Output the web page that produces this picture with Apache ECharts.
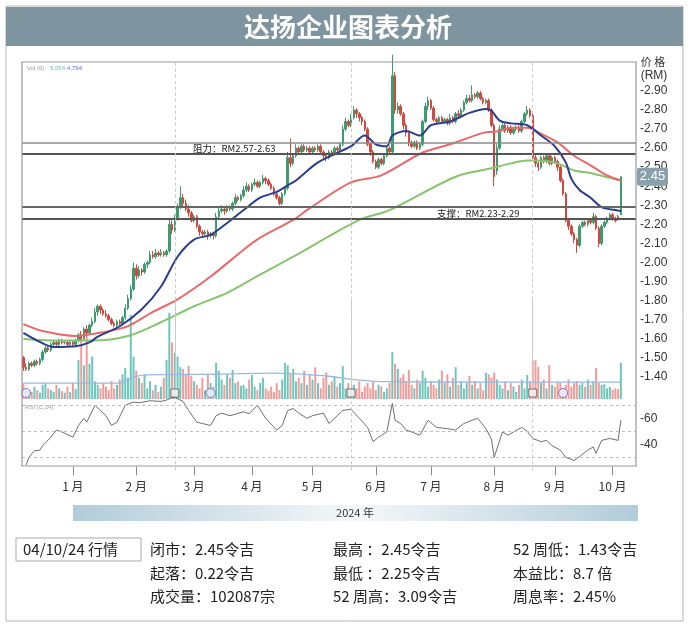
<!DOCTYPE html>
<html><head><meta charset="utf-8">
<script src="https://cdn.jsdelivr.net/npm/echarts/dist/echarts.min.js"></script>
<style>html,body{margin:0;padding:0;background:#fff}#c{width:690px;height:628px}</style>
</head><body><div id="c"></div>
<script>
// ---------- categories: trading days (weekdays) from 2023-12-06 ----------
const firstDay = [2023, 11, 6];
const categoryCount = 223; // 218 trading days + empty slots up to the frame
const dates = [];
(function(){
  const d = new Date(Date.UTC(firstDay[0], firstDay[1], firstDay[2]));
  while (dates.length < categoryCount) {
    const w = d.getUTCDay();
    if (w !== 0 && w !== 6) dates.push(d.toISOString().slice(0, 10));
    d.setUTCDate(d.getUTCDate() + 1);
  }
})();

// ---------- daily candles [open, close, low, high] (RM) ----------
const candles = [
[1.50,1.45,1.43,1.51],[1.45,1.44,1.43,1.47],[1.44,1.47,1.43,1.48],[1.47,1.46,1.45,1.48],[1.46,1.48,1.45,1.49],
[1.48,1.47,1.46,1.49],[1.47,1.49,1.46,1.50],[1.49,1.53,1.48,1.54],[1.53,1.55,1.52,1.56],[1.55,1.54,1.53,1.56],
[1.54,1.57,1.53,1.58],[1.57,1.58,1.56,1.59],[1.58,1.57,1.56,1.59],[1.57,1.59,1.56,1.60],[1.59,1.58,1.57,1.60],
[1.58,1.58,1.57,1.59],[1.58,1.57,1.56,1.59],[1.57,1.58,1.56,1.59],[1.58,1.57,1.56,1.59],[1.57,1.59,1.56,1.60],
[1.59,1.62,1.58,1.63],[1.62,1.60,1.59,1.64],[1.60,1.65,1.59,1.66],[1.65,1.63,1.61,1.67],[1.63,1.67,1.62,1.68],
[1.67,1.69,1.66,1.71],[1.69,1.74,1.68,1.76],[1.74,1.77,1.72,1.78],[1.77,1.75,1.73,1.78],[1.75,1.73,1.72,1.76],
[1.73,1.72,1.71,1.75],[1.72,1.70,1.69,1.73],[1.70,1.68,1.67,1.71],[1.68,1.67,1.66,1.69],[1.67,1.69,1.66,1.70],
[1.69,1.68,1.67,1.70],[1.68,1.71,1.67,1.72],[1.71,1.76,1.70,1.78],[1.76,1.81,1.75,1.83],[1.81,1.86,1.80,1.88],
[1.86,1.97,1.85,2.00],[1.97,1.93,1.91,1.99],[1.93,1.96,1.92,1.98],[1.96,1.95,1.93,1.97],[1.95,1.99,1.94,2.00],
[1.99,2.00,1.97,2.01],[2.00,2.04,1.99,2.06],[2.04,2.03,2.02,2.06],[2.03,2.05,2.02,2.07],[2.05,2.04,2.03,2.06],
[2.04,2.05,2.03,2.07],[2.05,2.04,2.03,2.06],[2.04,2.06,2.03,2.07],[2.06,2.20,2.05,2.23],[2.20,2.17,2.15,2.22],
[2.17,2.23,2.16,2.25],[2.23,2.29,2.22,2.31],[2.29,2.34,2.28,2.40],[2.34,2.31,2.29,2.36],[2.31,2.28,2.27,2.33],
[2.28,2.26,2.24,2.30],[2.26,2.22,2.21,2.27],[2.22,2.24,2.21,2.25],[2.24,2.19,2.18,2.25],[2.19,2.16,2.14,2.20],
[2.16,2.15,2.13,2.17],[2.15,2.16,2.14,2.17],[2.16,2.14,2.12,2.17],[2.14,2.15,2.13,2.16],[2.15,2.14,2.12,2.16],
[2.14,2.24,2.13,2.26],[2.24,2.27,2.23,2.29],[2.27,2.28,2.26,2.30],[2.28,2.27,2.25,2.29],[2.27,2.29,2.26,2.30],
[2.29,2.28,2.27,2.30],[2.28,2.31,2.27,2.32],[2.31,2.34,2.30,2.36],[2.34,2.33,2.32,2.35],[2.33,2.35,2.32,2.36],
[2.35,2.38,2.34,2.40],[2.38,2.40,2.37,2.42],[2.40,2.38,2.37,2.41],[2.38,2.41,2.37,2.42],[2.41,2.42,2.40,2.44],
[2.42,2.40,2.39,2.43],[2.40,2.42,2.39,2.43],[2.42,2.44,2.41,2.46],[2.44,2.43,2.41,2.45],[2.43,2.41,2.40,2.44],
[2.41,2.39,2.38,2.42],[2.39,2.36,2.35,2.40],[2.36,2.34,2.33,2.37],[2.34,2.31,2.30,2.35],[2.31,2.36,2.30,2.37],
[2.36,2.39,2.35,2.40],[2.39,2.55,2.38,2.58],[2.55,2.52,2.50,2.65],[2.52,2.56,2.51,2.57],[2.56,2.60,2.55,2.62],
[2.60,2.58,2.57,2.61],[2.58,2.61,2.57,2.62],[2.61,2.59,2.58,2.62],[2.59,2.60,2.58,2.61],[2.60,2.58,2.57,2.61],
[2.58,2.60,2.57,2.61],[2.60,2.59,2.58,2.61],[2.59,2.61,2.58,2.62],[2.61,2.58,2.57,2.62],[2.58,2.56,2.54,2.59],
[2.56,2.55,2.53,2.57],[2.55,2.58,2.54,2.59],[2.58,2.57,2.56,2.59],[2.57,2.60,2.56,2.61],[2.60,2.59,2.58,2.61],
[2.59,2.62,2.58,2.63],[2.62,2.70,2.61,2.72],[2.70,2.74,2.69,2.76],[2.74,2.72,2.71,2.75],[2.72,2.76,2.71,2.78],
[2.76,2.80,2.75,2.82],[2.80,2.78,2.76,2.81],[2.78,2.76,2.74,2.79],[2.76,2.74,2.72,2.77],[2.74,2.70,2.69,2.75],
[2.70,2.62,2.61,2.71],[2.62,2.58,2.56,2.63],[2.58,2.53,2.52,2.59],[2.53,2.50,2.49,2.54],[2.50,2.54,2.49,2.55],
[2.54,2.52,2.51,2.55],[2.52,2.56,2.51,2.57],[2.56,2.60,2.55,2.61],[2.60,2.58,2.57,2.61],[2.58,2.98,2.57,3.09],
[2.98,2.80,2.78,3.00],[2.80,2.82,2.78,2.84],[2.82,2.78,2.77,2.83],[2.78,2.72,2.70,2.79],[2.72,2.68,2.66,2.73],
[2.68,2.63,2.61,2.69],[2.63,2.61,2.60,2.64],[2.61,2.63,2.60,2.64],[2.63,2.60,2.59,2.64],[2.60,2.62,2.59,2.63],
[2.62,2.74,2.61,2.75],[2.74,2.82,2.73,2.84],[2.82,2.85,2.80,2.87],[2.85,2.81,2.80,2.86],[2.81,2.75,2.74,2.82],
[2.75,2.74,2.73,2.76],[2.74,2.76,2.73,2.77],[2.76,2.74,2.73,2.77],[2.74,2.75,2.73,2.76],[2.75,2.73,2.72,2.76],
[2.73,2.76,2.72,2.78],[2.76,2.74,2.73,2.77],[2.74,2.78,2.73,2.79],[2.78,2.77,2.76,2.80],[2.77,2.80,2.76,2.81],
[2.80,2.84,2.79,2.85],[2.84,2.86,2.83,2.88],[2.86,2.85,2.84,2.88],[2.85,2.88,2.84,2.93],[2.88,2.87,2.86,2.89],
[2.87,2.89,2.86,2.90],[2.89,2.86,2.85,2.90],[2.86,2.84,2.83,2.87],[2.84,2.85,2.83,2.86],[2.85,2.80,2.79,2.86],
[2.80,2.72,2.71,2.81],[2.72,2.45,2.40,2.73],[2.48,2.60,2.46,2.62],[2.60,2.70,2.59,2.72],[2.70,2.72,2.69,2.73],
[2.72,2.69,2.68,2.73],[2.69,2.71,2.68,2.72],[2.71,2.68,2.67,2.72],[2.68,2.70,2.67,2.71],[2.70,2.71,2.69,2.72],
[2.71,2.69,2.68,2.72],[2.69,2.74,2.68,2.75],[2.74,2.78,2.73,2.79],[2.78,2.80,2.77,2.82],[2.80,2.77,2.76,2.81],
[2.77,2.55,2.54,2.78],[2.55,2.52,2.50,2.57],[2.52,2.50,2.48,2.53],[2.50,2.55,2.49,2.56],[2.55,2.53,2.52,2.56],
[2.53,2.56,2.52,2.57],[2.56,2.52,2.51,2.57],[2.52,2.55,2.51,2.56],[2.55,2.53,2.52,2.56],[2.53,2.50,2.48,2.54],
[2.50,2.43,2.42,2.51],[2.43,2.36,2.35,2.44],[2.36,2.22,2.21,2.37],[2.22,2.19,2.17,2.23],[2.19,2.15,2.14,2.20],
[2.15,2.12,2.10,2.16],[2.12,2.09,2.05,2.13],[2.09,2.19,2.08,2.20],[2.19,2.21,2.18,2.22],[2.21,2.20,2.19,2.22],
[2.20,2.22,2.19,2.23],[2.22,2.21,2.20,2.23],[2.21,2.24,2.20,2.26],[2.24,2.18,2.17,2.25],[2.18,2.10,2.08,2.19],
[2.10,2.19,2.09,2.20],[2.19,2.21,2.18,2.22],[2.21,2.23,2.20,2.24],[2.23,2.25,2.22,2.26],[2.25,2.23,2.22,2.26],
[2.23,2.22,2.21,2.24],[2.24,2.23,2.22,2.25],[2.25,2.45,2.25,2.45]
];

// ---------- daily volume (thousand shares) ----------
const volumes = [
45,30,25,20,35,25,18,40,45,30, 25,20,40,30,22,18,35,20,45,28,
110,170,95,187,100,120,50,40,30,45, 35,25,50,30,40,55,70,88,60,238,
120,80,60,45,70,30,50,25,40,20, 35,60,110,244,160,130,120,90,85,70,
94,65,50,40,30,60,25,70,45,35, 102,80,55,40,70,60,82,45,50,37,
40,30,55,68,35,25,45,60,30,23, 35,20,45,25,55,102,95,70,85,50,
60,45,80,40,70,55,90,45,30,60, 75,40,50,65,35,45,93,30,45,25,
40,30,50,20,35,45,30,50,25,40, 35,20,30,45,133,100,85,60,70,50,
82,40,30,55,45,80,60,35,50,40, 30,55,80,45,70,35,60,90,40,50,
30,45,65,40,50,30,45,25,74,70, 60,75,55,40,30,50,25,45,35,20,
40,55,30,68,50,108,110,91,45,55, 30,96,40,35,50,45,30,40,55,35,
45,50,40,45,35,55,40,50,88,45, 40,42,30,34,26,30,28,102
];
// volume moving average, read at sample days [dayIndex, value]
const volumeMA = [[0,45],[35,45],[40,62],[45,68],[70,70],[90,73],[110,65],[120,55],[130,49],[170,48],[217,48]];

// ---------- moving averages [dayIndex, RM] ----------
const maBlue = [[0,1.63],[5,1.59],[11,1.556],[19,1.56],[24,1.58],[27,1.61],[35,1.665],[43,1.754],[50,1.874],
 [56,2.03],[62,2.12],[68,2.145],[74,2.207],[80,2.275],[86,2.34],[92,2.37],[96,2.405],[99,2.43],[107,2.525],
 [119,2.61],[124,2.666],[128,2.62],[132,2.61],[134,2.666],[139,2.69],[144,2.666],[148,2.72],[155,2.74],
 [162,2.785],[168,2.806],[170,2.796],[173,2.744],[177,2.73],[183,2.72],[188,2.666],[193,2.61],[197,2.525],
 [199,2.44],[202,2.38],[206,2.34],[210,2.29],[215,2.275],[217,2.27]];
const maRed = [[0,1.676],[7,1.64],[19,1.614],[29,1.634],[38,1.666],[47,1.74],[56,1.806],[68,1.926],[80,2.067],
 [86,2.13],[98,2.223],[104,2.285],[119,2.42],[130,2.457],[145,2.577],[155,2.62],[167,2.68],[173,2.69],
 [177,2.707],[183,2.707],[188,2.676],[194,2.63],[200,2.56],[206,2.51],[212,2.457],[217,2.43]];
const maGreen = [[0,1.598],[13,1.59],[25,1.59],[38,1.614],[50,1.686],[62,1.77],[74,1.84],[86,1.936],[98,2.03],
 [122,2.223],[133,2.275],[157,2.45],[170,2.494],[177,2.52],[183,2.535],[188,2.535],[194,2.52],[200,2.483],
 [206,2.47],[212,2.447],[217,2.43]];

// ---------- RSI [dayIndex, value] ----------
const rsi = [[1,24],[2,30],[4,35],[6,35.5],[7,39],[10,45.5],[12,51],[14,49.5],[18,45.5],[20,54.5],[22,60],[23,57],
 [26,70],[28,66],[30,62],[32,54.5],[34,57],[37,70],[40,72.5],[42,72],[46,73.5],[50,73],[52,74],[54,76],[56,75],
 [58,73],[60,66],[63,57],[65,56],[68,54.5],[70,62],[72,64],[75,62],[80,65],[82,63.5],[85,70],[88,60],[92,51],
 [94,54.5],[96,66],[98,67.5],[100,64],[103,60],[105,62],[109,64],[111,56],[114,62],[116,66],[119,67],[122,60],
 [125,53],[127,42],[129,45.5],[132,49.5],[134,71.5],[135,58.5],[137,56],[139,51],[141,49.5],[144,47],[147,58.5],
 [150,53],[154,52],[157,51],[160,56],[163,58.5],[165,60],[168,52],[170,44],[171,30],[174,49.5],[176,47],
 [178,49.5],[181,53],[183,50],[185,44.5],[188,42],[190,43],[192,39],[195,35.5],[197,30],[200,27.5],[201,29],
 [205,35.5],[207,38],[208,33],[210,43],[213,44.5],[216,43],[217,58.5]];
const rsiLevels = [70, 50, 30];

// ---------- levels & events ----------
const resistance = [2.57, 2.63];
const support = [2.23, 2.29];
const eventSquares = [55, 119, 185];
const eventCircles = [1, 68, 196];
const lastClose = 2.45;

// ---------- texts ----------
const titleText = '达扬企业图表分析';
const yearText = '2024 年';
const dateBox = '04/10/24 行情';
const infoCol1 = ['闭市：2.45令吉', '起落：0.22令吉', '成交量：102087宗'];
const infoCol2 = ['最高 ：2.45令吉', '最低 ：2.25令吉', '52 周高：3.09令吉'];
const infoCol3 = ['52 周低：1.43令吉', '本益比：8.7 倍', '周息率：2.45%'];

// ---------- build ----------
const CJK = '"Noto Sans CJK SC", "Liberation Sans", sans-serif';
const NUM = '"Liberation Sans", "Noto Sans CJK SC", sans-serif';
const upColor = '#3c9c6e', downColor = '#d2483e';
const volUp = '#6cc6bb', volDown = '#f19b9b';
const isMonthStart = i => i > 0 && dates[i].slice(5, 7) !== dates[i - 1].slice(5, 7);

const chart = echarts.init(document.getElementById('c'));
const gridBase = {left: 22, width: 614, outerBoundsMode: 'none', containLabel: false};
const hiddenX = i => ({type: 'category', gridIndex: i, data: dates, boundaryGap: true,
  axisLine: {show: false}, axisTick: {show: false}, axisLabel: {show: false}, splitLine: {show: false}});

const volData = volumes.map((v, i) => ({value: v,
  itemStyle: {color: candles[i][1] >= candles[i][0] ? volUp : volDown}}));

const vLines = eventSquares.map(i => ({xAxis: dates[i]}));
const vLineStyle = {color: '#c8c8c8', type: [3, 3], width: 1};

chart.setOption({
  animation: false,
  backgroundColor: '#fff',
  grid: [
    Object.assign({top: 62.4, height: 333.4}, gridBase),
    Object.assign({top: 300, height: 99}, gridBase),
    Object.assign({top: 392.3, height: 78}, gridBase)
  ],
  xAxis: [hiddenX(0), hiddenX(1), {
    type: 'category', gridIndex: 2, data: dates, boundaryGap: true, offset: -4,
    axisLine: {show: false},
    axisTick: {show: true, interval: isMonthStart, alignWithLabel: true, length: 9, lineStyle: {color: '#8a8a8a'}},
    axisLabel: {show: true, interval: isMonthStart, margin: 14, color: '#333', fontSize: 12, fontFamily: CJK,
      formatter: v => parseInt(v.slice(5, 7), 10) + ' 月'},
    splitLine: {show: false}
  }],
  yAxis: [
    {type: 'value', gridIndex: 0, position: 'right', min: 1.3, max: 3.05, interval: 0.1,
      axisLine: {show: false}, axisTick: {show: false}, splitLine: {show: false},
      axisLabel: {margin: 4, color: '#333', fontSize: 12, fontFamily: NUM, showMaxLabel: false,
        formatter: v => (v > 1.35 && v < 2.95) ? '-' + v.toFixed(2) : ''}},
    {type: 'value', gridIndex: 1, min: 0, max: 280, show: false},
    {type: 'value', gridIndex: 2, position: 'right', min: 20, max: 80, interval: 10,
      axisLine: {show: false}, axisTick: {show: false}, splitLine: {show: false},
      axisLabel: {margin: 4, color: '#333', fontSize: 12, fontFamily: NUM,
        formatter: v => (v === 40 || v === 60) ? '-' + v : ''}}
  ],
  series: [
    {type: 'bar', xAxisIndex: 1, yAxisIndex: 1, data: volData, barWidth: '72%',
      markLine: {symbol: 'none', silent: true, label: {show: false}, lineStyle: vLineStyle, data: vLines}},
    {type: 'line', xAxisIndex: 1, yAxisIndex: 1, data: volumeMA, symbol: 'none', smooth: 0.4,
      lineStyle: {color: '#9db8de', width: 1.3}},
    {type: 'scatter', xAxisIndex: 1, yAxisIndex: 1, data: eventSquares.map(i => [i, 0]), symbol: 'rect',
      symbolSize: 8, symbolOffset: [0, -6], itemStyle: {color: '#f2f2f2', borderColor: '#555', borderWidth: 1}, z: 5},
    {type: 'scatter', xAxisIndex: 1, yAxisIndex: 1, data: eventCircles.map(i => [i, 0]), symbol: 'circle',
      symbolSize: 9, symbolOffset: [0, -6], itemStyle: {color: '#eef0ff', borderColor: '#5a6cc8', borderWidth: 1}, z: 5},
    {type: 'candlestick', xAxisIndex: 0, yAxisIndex: 0, data: candles, barWidth: '72%',
      itemStyle: {color: upColor, color0: downColor, borderColor: upColor, borderColor0: downColor, borderWidth: 1},
      markLine: {symbol: 'none', silent: true, label: {show: false}, data: [
        {yAxis: resistance[1], lineStyle: {color: '#8a8a8a', width: 1.5, type: 'solid'}},
        {yAxis: resistance[0], lineStyle: {color: '#555', width: 2, type: 'solid'}},
        {yAxis: support[1], lineStyle: {color: '#666', width: 2, type: 'solid'}},
        {yAxis: support[0], lineStyle: {color: '#555', width: 2, type: 'solid'}}
      ].concat(vLines.map(v => Object.assign({lineStyle: vLineStyle}, v)))}},
    {type: 'line', xAxisIndex: 0, yAxisIndex: 0, data: maGreen, symbol: 'none', smooth: 0.3,
      lineStyle: {color: '#86c46f', width: 2}},
    {type: 'line', xAxisIndex: 0, yAxisIndex: 0, data: maRed, symbol: 'none', smooth: 0.3,
      lineStyle: {color: '#e9696a', width: 2}},
    {type: 'line', xAxisIndex: 0, yAxisIndex: 0, data: maBlue, symbol: 'none', smooth: 0.3,
      lineStyle: {color: '#2c3d8f', width: 2}},
    {type: 'line', xAxisIndex: 2, yAxisIndex: 2, data: rsi, symbol: 'none',
      lineStyle: {color: '#6f6f6f', width: 1},
      markLine: {symbol: 'none', silent: true, label: {show: false},
        data: rsiLevels.map(v => ({yAxis: v, lineStyle: {color: '#bdbdbd', type: [3, 3], width: 1}}))
          .concat(vLines.map(v => Object.assign({lineStyle: vLineStyle}, v)))}}
  ]
});

// ---------- annotations ----------
const py = v => chart.convertToPixel({yAxisIndex: 0}, v);
const txt = (x, y, text, font, fill, align, extra) => Object.assign({type: 'text', x: x, y: y, silent: true,
  style: {text: text, font: font, fill: fill || '#222', textAlign: align || 'left', textVerticalAlign: 'middle'}}, extra || {});
const g = [];
g.push({type: 'rect', silent: true, shape: {x: 6, y: 6, width: 677, height: 615}, style: {fill: 'none', stroke: '#b5b5b5', lineWidth: 1}});
g.push({type: 'rect', silent: true, shape: {x: 6, y: 7, width: 677, height: 39}, style: {fill: '#7e949e'}});
g.push(txt(348, 27, titleText, 'bold 26px ' + CJK, '#ffffff', 'center'));
g.push({type: 'rect', silent: true, z: 100, shape: {x: 22, y: 62, width: 614, height: 404}, style: {fill: 'none', stroke: '#999', lineWidth: 1.2}});
g.push(txt(27, 68, 'Vol (6)', '6px ' + NUM, '#9a9a9a'));
g.push(txt(50, 68, '5,054', '6px ' + NUM, '#66b7c9'));
g.push(txt(67, 68, '4,794', '6px ' + NUM, '#5a6cc8'));
g.push(txt(25, 407, 'RSI (C,14)', '6px ' + NUM, '#9a9a9a'));
g.push(txt(653, 62, '价 格', '11px ' + CJK, '#333', 'center'));
g.push(txt(654, 76, '(RM)', '12px ' + NUM, '#333', 'center'));
// resistance / support labels
g.push(txt(193, py((resistance[0] + resistance[1]) / 2), '阻力：RM' + resistance[0].toFixed(2) + '-' + resistance[1].toFixed(2), '9.5px ' + CJK, '#222'));
g.push(txt(437, py((support[0] + support[1]) / 2), '支撑：RM' + support[0].toFixed(2) + '-' + support[1].toFixed(2), '9.5px ' + CJK, '#222'));
// last price tag
const tagY = py(lastClose);
g.push({type: 'rect', silent: true, z: 101, shape: {x: 637, y: tagY - 9, width: 31, height: 18, r: 2}, style: {fill: '#8aa0aa'}});
g.push(txt(652.5, tagY, lastClose.toFixed(2), '13px ' + NUM, '#ffffff', 'center', {z: 102}));
// year band
g.push({type: 'rect', silent: true, shape: {x: 73, y: 505, width: 565, height: 16},
  style: {fill: new echarts.graphic.LinearGradient(0, 0, 1, 0, [
    {offset: 0, color: '#b2ccd9'}, {offset: 0.5, color: '#f4f8fa'}, {offset: 1, color: '#b2ccd9'}])}});
g.push(txt(355, 513, yearText, '11px ' + CJK, '#333', 'center'));
// info table
g.push({type: 'rect', silent: true, shape: {x: 16, y: 538, width: 125, height: 23}, style: {fill: 'none', stroke: '#aaa', lineWidth: 1}});
g.push(txt(23, 549.5, dateBox, '15px ' + CJK, '#222'));
const rowsY = [549.5, 573, 596.5];
[[150, infoCol1], [333, infoCol2], [513, infoCol3]].forEach(([x, col]) => {
  col.forEach((t, r) => g.push(txt(x, rowsY[r], t, '15px ' + CJK, '#222')));
});
chart.setOption({graphic: g});
</script>
</body></html>
